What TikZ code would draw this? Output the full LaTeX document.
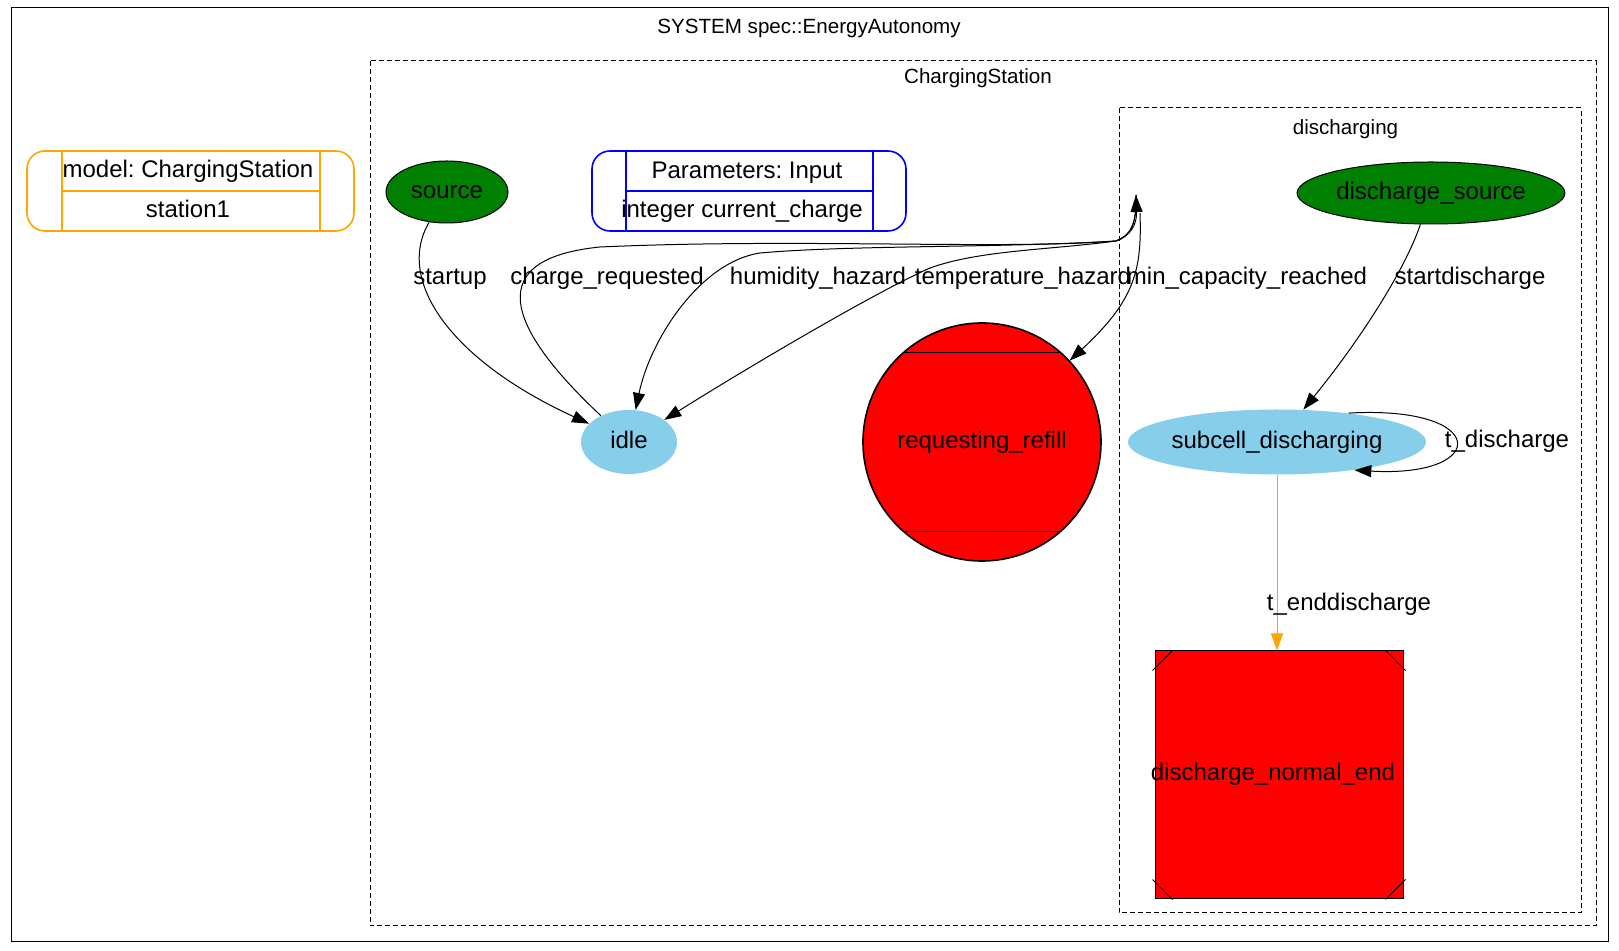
\documentclass[tikz,border=0pt]{standalone}
\usepackage{fontspec}
\setmainfont{Liberation Sans}
\frenchspacing
\usetikzlibrary{arrows.meta,shapes.geometric,calc}
\definecolor{gvgreen}{RGB}{0,128,0}
\definecolor{gvsky}{RGB}{135,206,235}
\definecolor{gvorange}{RGB}{255,165,0}
\definecolor{gvred}{RGB}{255,0,0}
\definecolor{gvblue}{RGB}{0,0,255}
\tikzset{
  every node/.style={font=\fontsize{12}{14}\selectfont, inner sep=0pt},
  lbl/.style={anchor=base},
  clusterlbl/.style={anchor=base, font=\fontsize{10.3}{12}\selectfont},
  initstate/.style={ellipse, draw=black, line width=0.5pt, fill=gvgreen, text height=9pt, text depth=2pt},
  plainstate/.style={ellipse, draw=none, fill=gvsky, text height=9pt, text depth=2pt},
  clusterbox/.style={draw, line width=0.5pt, dash pattern=on 2.5pt off 1.5pt},
  edgearr/.style={draw, line width=0.5pt, -{Triangle[length=8.5pt,width=6pt]}},
  orangearr/.style={draw=gvorange, line width=0.5pt, -{Triangle[length=8.5pt,width=6pt]}},
  recordbox/.style={draw, rounded corners=9pt, line width=0.8pt, minimum height=40pt},
}
\begin{document}
\begin{tikzpicture}[x=0.5pt,y=-0.5pt]
\useasboundingbox (0,0) rectangle (1619,951);
\fill[white] (0,0) rectangle (1619,951);

% outer system box
\draw[line width=0.5pt] (11,8) rectangle (1608,942);
\node[clusterlbl] (systitle) at (809,34) {SYSTEM spec::EnergyAutonomy};

% ChargingStation cluster
\draw[clusterbox] (370,61) rectangle (1596,926);
\node[clusterlbl] (cslbl) at (978,84) {ChargingStation};

% discharging cluster
\draw[clusterbox] (1119,108) rectangle (1581,913);
\node[clusterlbl] (dislbl) at (1345.5,135) {discharging};

% model record
\node[recordbox, draw=gvorange, minimum width=163.5pt] (model) at (190.5,191) {};
\draw[gvorange, line width=0.8pt] ([xshift=18pt]model.north west) -- ([xshift=18pt]model.south west);
\draw[gvorange, line width=0.8pt] ([xshift=-17.5pt]model.north east) -- ([xshift=-17.5pt]model.south east);
\draw[gvorange, line width=0.8pt] ([xshift=18pt]model.west) -- ([xshift=-17.5pt]model.east);
\node[lbl] (modeltxt) at (188,178) {model: ChargingStation};
\node[lbl] (stationtxt) at (188,218) {station1};

% parameters record
\node[recordbox, draw=gvblue, minimum width=157pt] (params) at (749,191) {};
\draw[gvblue, line width=0.8pt] ([xshift=17.5pt]params.north west) -- ([xshift=17.5pt]params.south west);
\draw[gvblue, line width=0.8pt] ([xshift=-17pt]params.north east) -- ([xshift=-17pt]params.south east);
\draw[gvblue, line width=0.8pt] ([xshift=17.5pt]params.west) -- ([xshift=-17pt]params.east);
\node[lbl] (paramtxt) at (747,179) {Parameters: Input};
\node[lbl] (inttxt) at (742,218) {integer current\_charge};

% states
\node[initstate, minimum width=61pt, minimum height=31pt] (source) at (447,192) {source};
\node[plainstate, minimum width=48pt, minimum height=32pt] (idle) at (629,442) {idle};
\node[circle, draw=black, line width=0.8pt, fill=gvred, minimum size=119pt, text height=9pt, text depth=2pt] (rr) at (982,442) {requesting\_refill};
\draw[line width=0.9pt] ([shift={(-78,-89.5)}]rr.center) -- ([shift={(78,-89.5)}]rr.center);
\draw[line width=0.9pt] ([shift={(-78,89.5)}]rr.center) -- ([shift={(78,89.5)}]rr.center);

\node[initstate, minimum width=130.5pt, minimum height=31pt] (dsource) at (1431,193) {discharge\_source};
\node[plainstate, minimum width=146pt, minimum height=32.5pt] (subcell) at (1277,442) {subcell\_discharging};
\node[rectangle, draw=black, line width=0.5pt, fill=gvred, minimum size=124pt] (dne) at (1279,775) {};
\node[lbl] (dnetxt) at (1273,781) {discharge\_normal\_end};
\draw[line width=0.5pt] ([shift={(-2,20)}]dne.north west) -- ([shift={(18,0)}]dne.north west);
\draw[line width=0.5pt] ([shift={(2,20)}]dne.north east) -- ([shift={(-18,0)}]dne.north east);
\draw[line width=0.5pt] ([shift={(-2,-20)}]dne.south west) -- ([shift={(18,0)}]dne.south west);
\draw[line width=0.5pt] ([shift={(2,-20)}]dne.south east) -- ([shift={(-18,0)}]dne.south east);

% cluster attachment points
\coordinate (dc) at (1136,195);
\coordinate (dcr) at (1140,213);

% edges
\draw[edgearr] (source) .. controls (395,280) and (450,360) .. (idle);
\node[lbl] (lstartup) at (450,285) {startup};

\draw[edgearr] (idle) .. controls (520,340) and (470,260) .. (600,247)
  .. controls (800,238) and (1000,250) .. (1116,241)
  .. controls (1130,236) and (1137,225) .. (dc);
\node[lbl] (lcharge) at (607,285) {charge\_requested};

\draw[edgearr] (dc) .. controls (1137,225) and (1130,236) .. (1116,241)
  .. controls (1000,248) and (850,245) .. (760,253)
  .. controls (700,262) and (650,340) .. (idle);
\node[lbl] (lhum) at (818,285) {humidity\_hazard};

\draw[edgearr] (dc) .. controls (1137,225) and (1130,236) .. (1116,241)
  .. controls (1050,250) and (980,250) .. (930,268)
  .. controls (880,290) and (760,360) .. (idle);
\node[lbl] (ltemp) at (1023,285) {temperature\_hazard};

\draw[edgearr] (dcr) .. controls (1142,270) and (1135,300) .. (rr);
\node[lbl] (lmin) at (1247,285) {min\_capacity\_reached};

\draw[edgearr] (dsource) .. controls (1405,270) and (1360,340) .. (subcell);
\node[lbl] (lstartd) at (1470,285) {startdischarge};

\node[lbl] (ltd) at (1507,448) {t\_discharge};
\draw[edgearr] (subcell.22) .. controls (1490,405) and (1490,478) .. (subcell.-20);

\draw[orangearr] (subcell) -- (subcell |- dne.north);
\node[lbl] (lted) at (1349,611) {t\_enddischarge};
\end{tikzpicture}
\end{document}
